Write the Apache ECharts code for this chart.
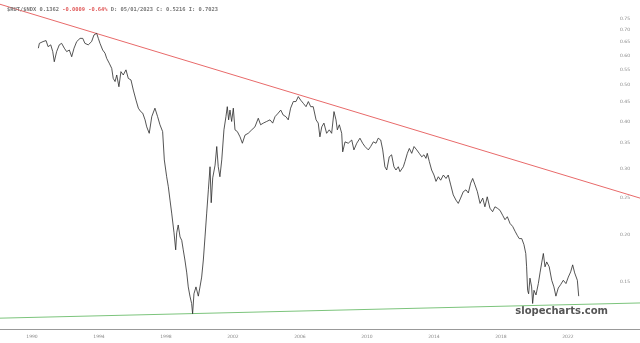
<!DOCTYPE html>
<html>
<head>
<meta charset="utf-8">
<script src="https://cdn.jsdelivr.net/npm/echarts@6/dist/echarts.min.js"></script>
<style>html,body{margin:0;padding:0;background:#fff;}#c{width:640px;height:343px;}</style>
</head>
<body>
<div id="c"></div>
<script>
// Decimal-year dates and ratio values
var years = [1990.38,1990.44,1990.66,1990.84,1990.96,1991.12,1991.24,1991.33,1991.47,1991.63,1991.77,1991.93,1992.07,1992.23,1992.37,1992.51,1992.67,1992.87,1993.03,1993.16,1993.36,1993.56,1993.70,1993.86,1993.96,1994.06,1994.22,1994.36,1994.46,1994.61,1994.76,1994.85,1994.96,1995.06,1995.19,1995.31,1995.45,1995.61,1995.75,1995.91,1996.05,1996.21,1996.35,1996.49,1996.61,1996.75,1996.85,1997.00,1997.15,1997.34,1997.50,1997.64,1997.80,1997.90,1998.04,1998.14,1998.24,1998.34,1998.48,1998.58,1998.64,1998.73,1998.84,1998.94,1999.03,1999.13,1999.24,1999.33,1999.43,1999.53,1999.59,1999.67,1999.79,1999.93,2000.03,2000.13,2000.23,2000.33,2000.43,2000.53,2000.63,2000.70,2000.79,2000.93,2001.03,2001.12,2001.22,2001.33,2001.46,2001.58,2001.66,2001.74,2001.82,2001.92,2002.02,2002.12,2002.26,2002.42,2002.56,2002.72,2002.91,2003.12,2003.31,2003.51,2003.65,2003.81,2004.01,2004.21,2004.37,2004.51,2004.70,2004.85,2005.00,2005.16,2005.30,2005.44,2005.60,2005.76,2005.90,2006.04,2006.20,2006.36,2006.50,2006.64,2006.79,2006.96,2007.09,2007.19,2007.30,2007.43,2007.59,2007.75,2007.89,2008.03,2008.15,2008.23,2008.35,2008.49,2008.55,2008.69,2008.88,2009.09,2009.22,2009.39,2009.58,2009.74,2009.88,2010.08,2010.22,2010.38,2010.54,2010.67,2010.82,2010.94,2011.07,2011.18,2011.33,2011.47,2011.61,2011.73,2011.87,2011.97,2012.17,2012.27,2012.41,2012.53,2012.67,2012.81,2012.97,2013.12,2013.27,2013.40,2013.52,2013.60,2013.72,2013.86,2014.00,2014.12,2014.26,2014.40,2014.56,2014.72,2014.85,2015.00,2015.15,2015.31,2015.45,2015.59,2015.75,2015.91,2016.05,2016.19,2016.31,2016.45,2016.59,2016.75,2016.91,2017.04,2017.18,2017.34,2017.50,2017.64,2017.78,2017.94,2018.10,2018.24,2018.38,2018.54,2018.70,2018.84,2018.97,2019.09,2019.24,2019.37,2019.48,2019.53,2019.59,2019.65,2019.73,2019.83,2019.89,2019.97,2020.09,2020.23,2020.33,2020.43,2020.53,2020.63,2020.73,2020.88,2021.03,2021.16,2021.28,2021.42,2021.56,2021.72,2021.88,2022.02,2022.16,2022.28,2022.40,2022.48,2022.56,2022.64];
var ratio = [0.627,0.646,0.653,0.657,0.633,0.640,0.614,0.577,0.614,0.640,0.646,0.627,0.614,0.620,0.595,0.627,0.653,0.666,0.666,0.646,0.640,0.653,0.680,0.687,0.666,0.646,0.620,0.608,0.589,0.572,0.554,0.521,0.511,0.532,0.495,0.543,0.532,0.549,0.521,0.516,0.485,0.456,0.434,0.425,0.421,0.404,0.387,0.372,0.412,0.434,0.412,0.392,0.376,0.316,0.285,0.268,0.247,0.228,0.202,0.182,0.202,0.212,0.197,0.193,0.182,0.171,0.158,0.145,0.137,0.131,0.123,0.139,0.145,0.137,0.145,0.154,0.171,0.197,0.228,0.263,0.303,0.243,0.283,0.306,0.343,0.303,0.285,0.316,0.380,0.412,0.438,0.404,0.429,0.400,0.434,0.380,0.376,0.364,0.350,0.368,0.372,0.380,0.387,0.408,0.392,0.396,0.400,0.404,0.396,0.412,0.421,0.429,0.416,0.412,0.404,0.434,0.452,0.452,0.466,0.456,0.447,0.438,0.452,0.438,0.438,0.404,0.396,0.364,0.387,0.396,0.372,0.380,0.372,0.425,0.404,0.380,0.392,0.372,0.332,0.353,0.350,0.357,0.336,0.350,0.361,0.350,0.343,0.336,0.343,0.353,0.350,0.361,0.357,0.336,0.303,0.297,0.322,0.326,0.303,0.297,0.303,0.294,0.303,0.313,0.329,0.339,0.329,0.343,0.336,0.329,0.322,0.326,0.319,0.329,0.313,0.297,0.288,0.277,0.285,0.279,0.288,0.282,0.288,0.271,0.255,0.247,0.242,0.250,0.260,0.263,0.258,0.274,0.282,0.271,0.260,0.242,0.250,0.237,0.252,0.235,0.230,0.237,0.235,0.232,0.225,0.219,0.223,0.214,0.210,0.204,0.199,0.195,0.195,0.188,0.178,0.164,0.142,0.139,0.153,0.145,0.131,0.142,0.138,0.148,0.158,0.168,0.178,0.164,0.169,0.164,0.151,0.145,0.137,0.144,0.147,0.151,0.148,0.154,0.159,0.166,0.158,0.159,0.151,0.137];

// Trend lines (start/end at the chart's x extent)
var xMin = 1988.09, xMax = 2026.30;
var upperTrendYears = [xMin, xMax];
var upperTrendValues = [0.821, 0.250];
var lowerTrendYears = [xMin, xMax];
var lowerTrendValues = [0.1197, 0.1314];

// Axis ticks
var yTicks = [0.15,0.20,0.25,0.30,0.35,0.40,0.45,0.50,0.55,0.60,0.65,0.70,0.75];
var xTicks = [1990,1994,1998,2002,2006,2010,2014,2018,2022];
var yMin = 0.1120, yMax = 0.8427;

function zip(a, b) { return a.map(function (v, i) { return [v, b[i]]; }); }

var chart = echarts.init(document.getElementById('c'), null, {renderer: 'canvas'});
chart.setOption({
  animation: false,
  backgroundColor: '#ffffff',
  title: {
    left: 2, top: 2,
    text: '{a|$RUT/$NDX 0.1362 }{r|-0.0009 -0.64%}{a| D: 05/01/2023 C: 0.5216 I: 0.7023}',
    textStyle: {
      rich: {
        a: {fontFamily: 'DejaVu Sans Mono', fontSize: 5.4, color: '#777'},
        r: {fontFamily: 'DejaVu Sans Mono', fontSize: 5.4, color: '#e05a5a'}
      }
    }
  },
  grid: {left: 0, right: 0, top: 0, bottom: 14, containLabel: false},
  xAxis: {
    type: 'value', min: xMin, max: xMax,
    axisLine: {show: true, lineStyle: {color: '#999', width: 1}},
    axisTick: {show: false},
    splitLine: {show: false},
    axisLabel: {
      customValues: xTicks, fontSize: 4.5, color: '#888', margin: 5,
      fontFamily: 'DejaVu Sans',
      formatter: function (v) { return String(Math.round(v)); }
    }
  },
  yAxis: {
    type: 'log', position: 'right', min: yMin, max: yMax,
    axisLine: {show: false}, axisTick: {show: false}, splitLine: {show: false},
    axisLabel: {
      inside: true, customValues: yTicks, fontSize: 4.5, color: '#888', margin: 10,
      fontFamily: 'DejaVu Sans',
      formatter: function (v) { return Number(v).toFixed(2); }
    }
  },
  series: [
    {type: 'line', data: zip(upperTrendYears, upperTrendValues), showSymbol: false,
      lineStyle: {color: '#e86a6a', width: 1}, z: 1},
    {type: 'line', data: zip(lowerTrendYears, lowerTrendValues), showSymbol: false,
      lineStyle: {color: '#7cc47c', width: 1}, z: 1},
    {type: 'line', data: zip(years, ratio), showSymbol: false,
      lineStyle: {color: '#2a2a2a', width: 0.8}, z: 2}
  ],
  graphic: [{
    type: 'text', right: 32, bottom: 27,
    style: {text: 'slopecharts.com', font: 'bold 10px "DejaVu Sans"', fill: '#555'}
  }]
});
</script>
</body>
</html>
